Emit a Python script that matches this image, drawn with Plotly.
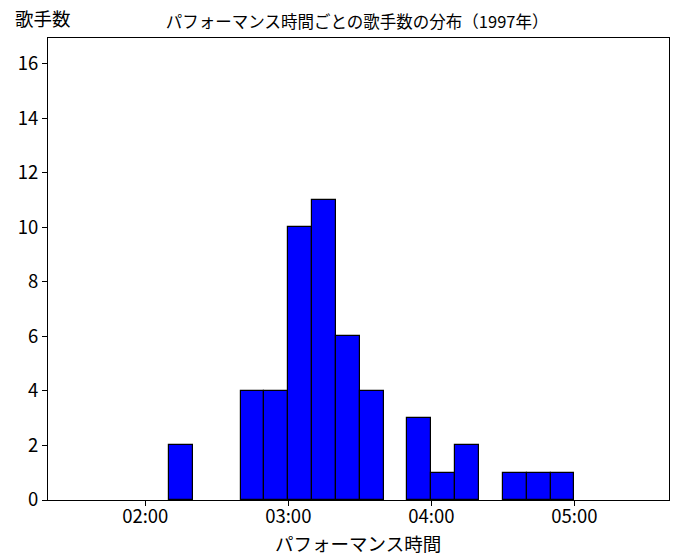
import plotly.graph_objects as go

# bin start times in seconds (10-second bins)
bin_starts = [130, 160, 170, 180, 190, 200, 210, 230, 240, 250, 270, 280, 290]
counts = [2, 4, 4, 10, 11, 6, 4, 3, 1, 2, 1, 1, 1]
bin_width = 10
tick_vals = [120, 180, 240, 300]
tick_labels = ["02:00", "03:00", "04:00", "05:00"]

FONT = "Noto Sans CJK JP"

fig = go.Figure()
fig.add_trace(go.Bar(
    x=[s + bin_width / 2 for s in bin_starts],
    y=counts,
    width=bin_width,
    marker=dict(color="#0000ff", line=dict(color="black", width=1.2)),
    hoverinfo="skip",
))

fig.update_layout(
    width=678, height=560,
    margin=dict(l=40, r=17, t=30, b=68, autoexpand=False),
    paper_bgcolor="white", plot_bgcolor="white",
    showlegend=False,
    bargap=0,
    font=dict(family=FONT, color="black"),
    title=dict(text="パフォーマンス時間ごとの歌手数の分布（1997年）",
               x=0.515, xanchor="center", y=0.974, yanchor="middle",
               font=dict(size=16.5, family=FONT, color="black")),
    xaxis=dict(
        range=[79.2, 339.7],
        tickvals=tick_vals, ticktext=tick_labels,
        ticks="outside", ticklen=5, tickwidth=1, tickcolor="black",
        ticklabelstandoff=-5,
        showline=True, linecolor="black", linewidth=1, mirror=True,
        showgrid=False, zeroline=False, automargin=False,
        tickfont=dict(size=18.5, family=FONT),
    ),
    yaxis=dict(
        range=[0, 16.95],
        tickvals=list(range(0, 17, 2)),
        ticks="outside", ticklen=5, tickwidth=1, tickcolor="black",
        showline=True, linecolor="black", linewidth=1, mirror=True,
        showgrid=False, zeroline=False, automargin=False,
        tickfont=dict(size=18.5, family=FONT),
    ),
)

fig.add_annotation(
    text="歌手数", xref="paper", yref="paper", x=-0.0568, y=1.043,
    xanchor="left", yanchor="middle", showarrow=False,
    font=dict(size=18.5, family=FONT, color="black"),
)
fig.add_annotation(
    text="パフォーマンス時間", xref="paper", yref="paper", x=0.499, y=-0.092,
    xanchor="center", yanchor="middle", showarrow=False,
    font=dict(size=18.5, family=FONT, color="black"),
)

fig.write_html("out.html")
